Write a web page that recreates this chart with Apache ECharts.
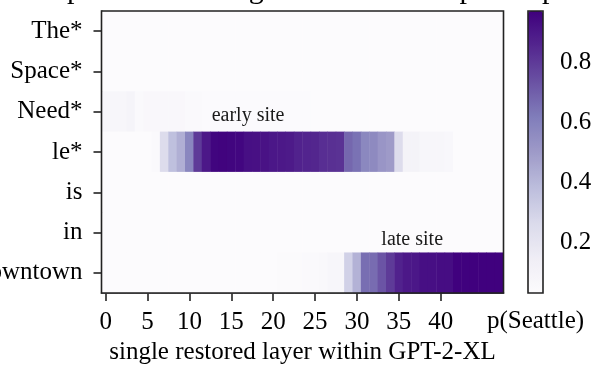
<!DOCTYPE html>
<html>
<head>
<meta charset="utf-8">
<script src="https://cdn.jsdelivr.net/npm/echarts@6/dist/echarts.min.js"></script>
<style>
html,body{margin:0;padding:0;background:#fff;}
#c{width:597px;height:367px;}
</style>
</head>
<body>
<div id="c"></div>
<script>
// categories
const layers = ['0','1','2','3','4','5','6','7','8','9','10','11','12','13','14','15','16','17','18','19','20','21','22','23','24','25','26','27','28','29','30','31','32','33','34','35','36','37','38','39','40','41','42','43','44','45','46','47'];
const tokens = ['The*', 'Space*', 'Need*', 'le*', 'is', 'in', 'downtown'];
const xTickLayers = [0, 5, 10, 15, 20, 25, 30, 35, 40];
const colorbarTicks = [0.2, 0.4, 0.6, 0.8];

// p(Seattle) after restoring a single layer, per token row
const rowThe = [0.03,0.03,0.03,0.03,0.03,0.03,0.03,0.03,0.03,0.03,0.03,0.03,0.03,0.03,0.03,0.03,0.03,0.03,0.03,0.03,0.03,0.03,0.03,0.03,0.03,0.03,0.03,0.03,0.03,0.03,0.03,0.03,0.03,0.03,0.03,0.03,0.03,0.03,0.03,0.03,0.03,0.03,0.03,0.03,0.03,0.03,0.03,0.03];
const rowSpace = [0.03,0.03,0.03,0.03,0.03,0.03,0.03,0.03,0.03,0.03,0.03,0.03,0.03,0.03,0.03,0.03,0.03,0.03,0.03,0.03,0.03,0.03,0.03,0.03,0.03,0.03,0.03,0.03,0.03,0.03,0.03,0.03,0.03,0.03,0.03,0.03,0.03,0.03,0.03,0.03,0.03,0.03,0.03,0.03,0.03,0.03,0.03,0.03];
const rowNeed = [0.07,0.07,0.07,0.09,0.05,0.06,0.06,0.06,0.06,0.06,0.05,0.05,0.035,0.035,0.035,0.035,0.035,0.035,0.035,0.035,0.035,0.035,0.035,0.035,0.035,0.03,0.03,0.03,0.03,0.03,0.03,0.03,0.03,0.03,0.03,0.03,0.03,0.03,0.03,0.03,0.03,0.03,0.03,0.03,0.03,0.03,0.03,0.03];
const rowLe = [0.03,0.03,0.03,0.03,0.03,0.03,0.045,0.25,0.37,0.43,0.58,0.8,0.9,0.96,0.965,0.96,0.955,0.93,0.925,0.92,0.905,0.9,0.895,0.87,0.865,0.86,0.835,0.83,0.825,0.68,0.65,0.575,0.565,0.52,0.5,0.25,0.1,0.1,0.07,0.07,0.07,0.065,0.03,0.03,0.03,0.03,0.03,0.03];
const rowIs = [0.03,0.03,0.03,0.03,0.03,0.03,0.03,0.03,0.03,0.03,0.03,0.03,0.03,0.03,0.03,0.03,0.03,0.03,0.03,0.03,0.03,0.03,0.03,0.03,0.03,0.03,0.03,0.03,0.03,0.03,0.03,0.03,0.03,0.03,0.03,0.03,0.03,0.03,0.03,0.03,0.03,0.03,0.03,0.03,0.03,0.03,0.03,0.03];
const rowIn = [0.03,0.03,0.03,0.03,0.03,0.03,0.03,0.03,0.03,0.03,0.03,0.03,0.03,0.03,0.03,0.03,0.03,0.03,0.03,0.03,0.03,0.031,0.031,0.031,0.031,0.032,0.032,0.032,0.032,0.032,0.032,0.032,0.032,0.032,0.032,0.032,0.031,0.031,0.031,0.031,0.031,0.03,0.03,0.03,0.03,0.03,0.03,0.03];
const rowDowntown = [0.03,0.03,0.03,0.03,0.03,0.03,0.03,0.03,0.03,0.03,0.03,0.03,0.03,0.03,0.03,0.03,0.03,0.03,0.03,0.03,0.03,0.04,0.04,0.04,0.05,0.05,0.055,0.07,0.075,0.3,0.42,0.66,0.665,0.73,0.8,0.87,0.9,0.905,0.93,0.93,0.935,0.935,0.97,0.97,0.97,0.97,0.97,0.97];
const rows = [rowThe, rowSpace, rowNeed, rowLe, rowIs, rowIn, rowDowntown];

const annotations = [
  {text: 'early site', layer: '17', token: 'Need*', dx: 0, dy: 4},
  {text: 'late site', layer: '36', token: 'in', dx: 5, dy: 7}
];

const purples = ['#fcfbfd','#efedf5','#dadaeb','#bcbddc','#9e9ac8','#807dba','#6a51a3','#54278f','#3f007d'];
const vmin = 0.029, vmax = 0.974;

const data = [];
rows.forEach((r, yi) => r.forEach((v, xi) => data.push([xi, yi, v])));

const FONT = 'Liberation Serif';
const chart = echarts.init(document.getElementById('c'), null, {renderer: 'canvas'});
chart.setOption({
  animation: false,
  backgroundColor: '#fff',
  textStyle: {fontFamily: FONT, color: '#000'},
  title: {
    text: 'Impact of restoring state after corrupted input',
    left: 302, top: -30, textAlign: 'center',
    textStyle: {fontFamily: FONT, fontSize: 30, fontWeight: 'normal', color: '#000'}
  },
  grid: [
    {left: 101.5, top: 11, width: 402, height: 282, show: true, borderColor: '#222', borderWidth: 1.6, backgroundColor: 'transparent', z: 10, outerBoundsMode: 'none', containLabel: false},
    {left: 528, top: 11, width: 15, height: 282, show: true, borderColor: '#222', borderWidth: 1.6, backgroundColor: 'transparent', z: 10, outerBoundsMode: 'none', containLabel: false}
  ],
  xAxis: [
    {
      type: 'category', data: layers, gridIndex: 0, position: 'bottom',
      axisLine: {show: true, lineStyle: {color: '#222', width: 1.6}},
      axisTick: {show: true, alignWithLabel: true, length: 8, lineStyle: {color: '#222', width: 1.6},
        interval: (i) => xTickLayers.indexOf(i) >= 0},
      axisLabel: {interval: (i) => xTickLayers.indexOf(i) >= 0, fontSize: 25, fontFamily: FONT, color: '#000', margin: 17},
      splitLine: {show: false},
      name: 'single restored layer within GPT-2-XL', nameLocation: 'middle', nameGap: 46,
      nameTextStyle: {fontSize: 25, fontFamily: FONT, color: '#000'}
    },
    {
      type: 'value', gridIndex: 1, min: 0, max: 1,
      axisLine: {show: false}, axisTick: {show: false}, axisLabel: {show: false}, splitLine: {show: false},
      name: 'p(Seattle)', nameLocation: 'middle', nameGap: 16,
      nameTextStyle: {fontSize: 25, fontFamily: FONT, color: '#000'}
    }
  ],
  yAxis: [
    {
      type: 'category', data: tokens, gridIndex: 0, inverse: true,
      axisLine: {show: true, lineStyle: {color: '#222', width: 1.6}},
      axisTick: {show: true, alignWithLabel: true, length: 8, lineStyle: {color: '#222', width: 1.6}},
      axisLabel: {fontSize: 25, fontFamily: FONT, color: '#000', margin: 19},
      splitLine: {show: false}
    },
    {
      type: 'value', gridIndex: 1, position: 'right', min: vmin, max: vmax,
      axisLine: {show: false},
      axisTick: {show: true, length: 8, lineStyle: {color: '#222', width: 1.6}, customValues: colorbarTicks},
      axisLabel: {fontSize: 25, fontFamily: FONT, color: '#000', margin: 17, customValues: colorbarTicks,
        formatter: (v) => v.toFixed(1)},
      splitLine: {show: false}
    }
  ],
  visualMap: {
    type: 'continuous', min: vmin, max: vmax, seriesIndex: 0,
    left: 528, top: 11, itemWidth: 15, itemHeight: 282, padding: 0,
    calculable: false, realtime: false, text: null, showLabel: false,
    inRange: {color: purples}, hoverLink: false
  },
  series: [{
    type: 'heatmap', xAxisIndex: 0, yAxisIndex: 0, data: data,
    itemStyle: {borderWidth: 0},
    emphasis: {disabled: true},
    markPoint: {
      symbol: 'circle', symbolSize: 2, silent: true,
      itemStyle: {color: 'rgba(0,0,0,0)'},
      data: annotations.map(a => ({
        coord: [a.layer, a.token], value: a.text,
        itemStyle: {color: 'rgba(0,0,0,0)'},
        label: {show: true, formatter: a.text, fontSize: 20, fontFamily: FONT, color: '#1a1a1a', position: 'inside', offset: [a.dx, a.dy]}
      }))
    }
  }]
});
</script>
</body>
</html>
